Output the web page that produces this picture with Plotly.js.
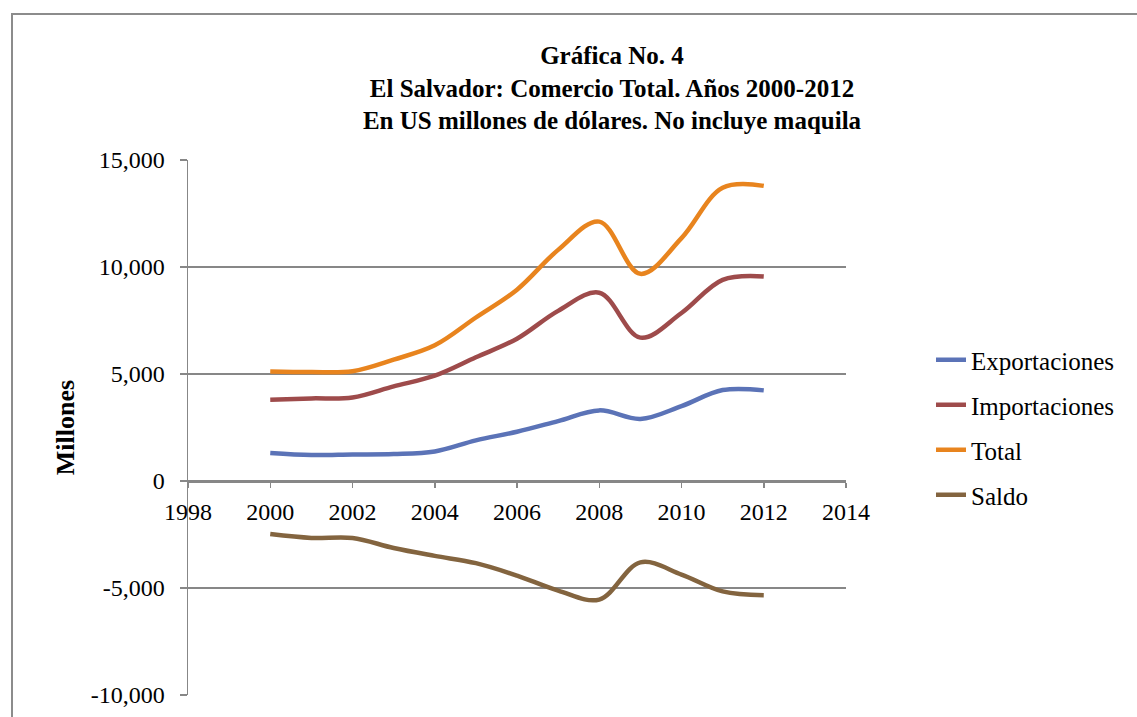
<!DOCTYPE html>
<html>
<head>
<meta charset="utf-8">
<script src="https://cdn.plot.ly/plotly-3.0.1.min.js"></script>
<style>
html,body{margin:0;padding:0;background:#fff;}
#chart{width:1137px;height:717px;}
</style>
</head>
<body>
<div id="chart"></div>
<script>
const years = [2000, 2001, 2002, 2003, 2004, 2005, 2006, 2007, 2008, 2009, 2010, 2011, 2012];
const exportaciones = [1310, 1215, 1240, 1260, 1380, 1900, 2300, 2800, 3300, 2900, 3500, 4250, 4235];
const importaciones = [3800, 3860, 3900, 4420, 4920, 5780, 6650, 7950, 8800, 6700, 7850, 9400, 9560];
const total = [5120, 5090, 5130, 5670, 6340, 7640, 8940, 10800, 12120, 9680, 11350, 13700, 13790];
const saldo = [-2480, -2660, -2660, -3130, -3500, -3840, -4420, -5120, -5540, -3800, -4370, -5160, -5340];

const seriesNames = ['Exportaciones', 'Importaciones', 'Total', 'Saldo'];
const seriesColors = ['#5B73B7', '#9E4B4B', '#E8841E', '#83643F'];
const yTickVals = [-10000, -5000, 0, 5000, 10000, 15000];
const yTickText = ['-10,000', '-5,000', '0', '5,000', '10,000', '15,000'];
const xTickVals = [1998, 2000, 2002, 2004, 2006, 2008, 2010, 2012, 2014];

const FONT = 'Liberation Serif, Times New Roman, serif';
const GRAY = '#878787';

const seriesData = [exportaciones, importaciones, total, saldo];
const traces = seriesData.map((vals, i) => ({
  type: 'scatter',
  mode: 'lines',
  x: years,
  y: vals,
  name: seriesNames[i],
  legendgroup: 'g' + i,
  line: {color: seriesColors[i], width: 4.5, shape: 'spline', smoothing: 1}
}));

const layout = {
  width: 1137,
  height: 717,
  paper_bgcolor: '#ffffff',
  plot_bgcolor: '#ffffff',
  margin: {l: 188, r: 291, t: 160, b: 22},
  font: {family: FONT, color: '#000', size: 24},
  title: {
    text: 'Gráfica No. 4<br>El Salvador: Comercio Total. Años 2000-2012<br>En US millones de dólares. No incluye maquila',
    font: {family: FONT, size: 25, color: '#000', weight: 'bold'},
    x: 612 / 1137,
    xref: 'container',
    xanchor: 'center',
    y: 1 - 64 / 717,
    yref: 'container',
    yanchor: 'top'
  },
  xaxis: {
    range: [1998, 2014],
    tickvals: xTickVals,
    ticktext: xTickVals.map(String),
    showgrid: false,
    zeroline: false,
    showline: true,
    linecolor: GRAY,
    linewidth: 1.5,
    ticks: 'outside',
    ticklen: 5,
    tickwidth: 1.5,
    tickcolor: GRAY,
    ticklabelstandoff: 4,
    anchor: 'free',
    position: 0.4,
    tickfont: {family: FONT, size: 24, color: '#000'},
    fixedrange: true
  },
  yaxis: {
    range: [-10000, 15000],
    tickvals: yTickVals,
    ticktext: yTickText,
    showgrid: true,
    gridcolor: GRAY,
    gridwidth: 1.5,
    zeroline: false,
    showline: true,
    linecolor: GRAY,
    linewidth: 1.5,
    ticks: 'outside',
    ticklen: 7,
    tickwidth: 1.5,
    tickcolor: GRAY,
    ticklabelstandoff: 10,
    tickfont: {family: FONT, size: 24, color: '#000'},
    title: {text: 'Millones', font: {family: FONT, size: 26, color: '#000', weight: 'bold'}, standoff: 8},
    fixedrange: true
  },
  legend: {
    x: (931 - 188) / 658,
    xanchor: 'left',
    y: (695 - 337) / 535,
    yanchor: 'top',
    font: {family: FONT, size: 25, color: '#000'},
    tracegroupgap: 9.5,
    bgcolor: 'rgba(0,0,0,0)'
  },
  showlegend: true,
  shapes: [{
    type: 'rect',
    xref: 'paper', yref: 'paper',
    x0: (12 - 188) / 658, x1: (1160 - 188) / 658,
    y0: (695 - 740) / 535, y1: (695 - 14) / 535,
    line: {color: '#8c8c8c', width: 2},
    fillcolor: 'rgba(0,0,0,0)',
    layer: 'below'
  }]
};

Plotly.newPlot('chart', traces, layout, {displayModeBar: false, staticPlot: true});
</script>
</body>
</html>
